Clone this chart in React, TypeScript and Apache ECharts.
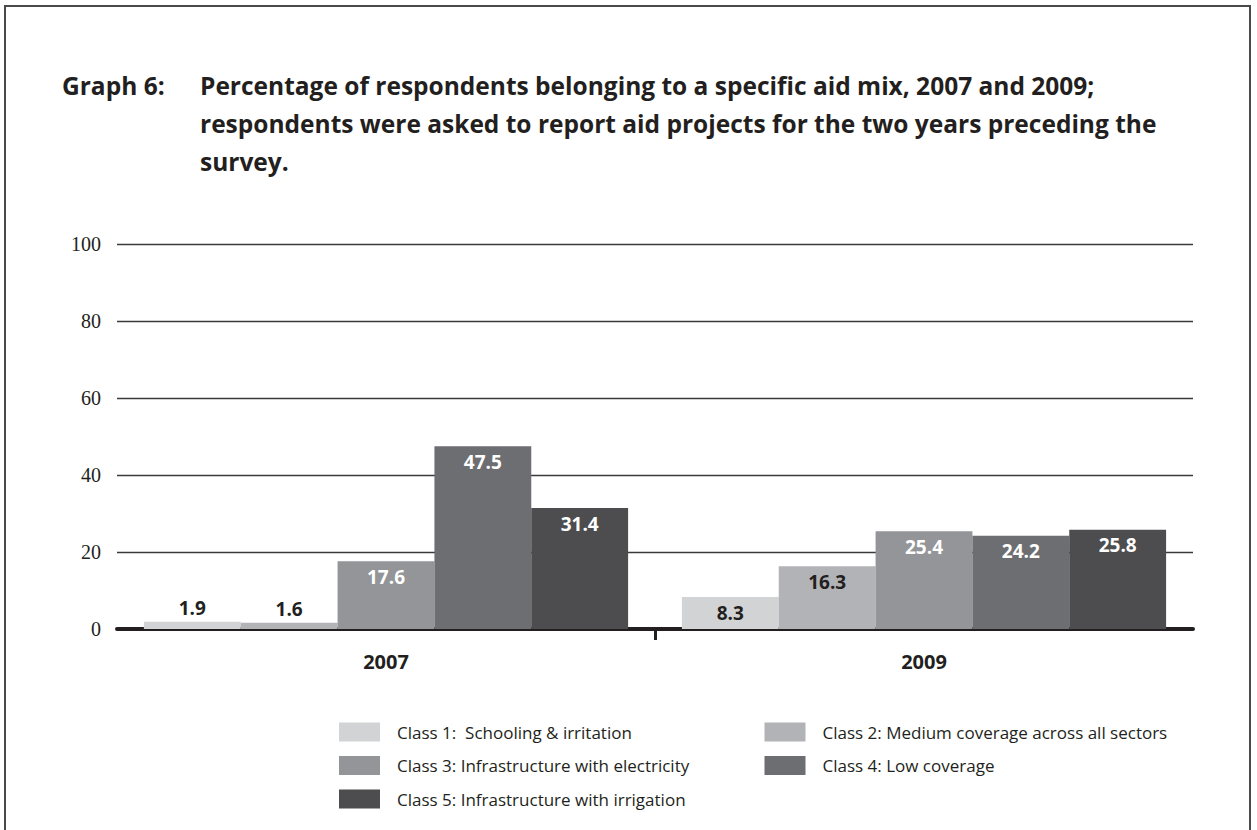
import React, { useEffect, useRef } from "react";
import * as echarts from "echarts";

const categories = ["2007", "2009"];
const classNames = [
  "Class 1:  Schooling & irritation",
  "Class 2: Medium coverage across all sectors",
  "Class 3: Infrastructure with electricity",
  "Class 4: Low coverage",
  "Class 5: Infrastructure with irrigation",
];
const class1 = [1.9, 8.3];
const class2 = [1.6, 16.3];
const class3 = [17.6, 25.4];
const class4 = [47.5, 24.2];
const class5 = [31.4, 25.8];
const yTicks = [0, 20, 40, 60, 80, 100];

const titleLead = "Graph 6:";
const titleBody =
  "Percentage of respondents belonging to a specific aid mix, 2007 and 2009;\nrespondents were asked to report aid projects for the two years preceding the\nsurvey.";

const colors = ["#d1d3d4", "#b1b3b6", "#939598", "#6d6e71", "#4d4d4f"];
const labelColors = ["#231f20", "#231f20", "#ffffff", "#ffffff", "#ffffff"];
const DARK = "#231f20";

export default function App() {
  const ref = useRef<HTMLDivElement>(null);
  useEffect(() => {
    if (!ref.current) return;
    const chart = echarts.init(ref.current, null, { renderer: "svg" });
    const seriesValues = [class1, class2, class3, class4, class5];
    const series: any[] = seriesValues.map((vals, si) => ({
      name: classNames[si],
      type: "bar",
      barGap: "0%",
      barCategoryGap: "10%",
      itemStyle: { color: colors[si] },
      data: vals.map((v) => ({
        value: v,
        label: {
          show: true,
          position: v < 5 ? "top" : "insideTop",
          distance: v < 5 ? 4 : 6,
          color: v < 5 ? DARK : labelColors[si],
          fontFamily: "Open Sans",
          fontWeight: 700,
          fontSize: 19,
          formatter: (p: any) => p.value.toFixed(1),
        },
      })),
    }));

    const titleStyle = {
      fontFamily: "Open Sans",
      fontWeight: 700,
      fontSize: 24.5,
      lineHeight: 38,
      color: DARK,
    };

    chart.setOption({
      animation: false,
      backgroundColor: "#ffffff",
      title: [
        { text: titleLead, left: 62, top: 66, padding: 0, textStyle: titleStyle },
        { text: titleBody, left: 200, top: 66, padding: 0, textStyle: titleStyle },
      ],
      graphic: [
        {
          type: "polyline",
          shape: { points: [[5, 830], [5, 6], [1250, 6], [1250, 830]] },
          style: { stroke: "#4a4a4a", lineWidth: 2, fill: "none" },
          silent: true,
        },
      ],
      legend: {
        data: classNames,
        left: 334,
        top: 717,
        width: 860,
        itemWidth: 41,
        itemHeight: 19,
        itemGap: 13.5,
        icon: "rect",
        selectedMode: false,
        textStyle: {
          fontFamily: "'Liberation Sans Narrow', 'Open Sans'",
          fontSize: 17,
          color: DARK,
          width: 354,
          lineHeight: 20,
          padding: [0, 0, 0, 12],
        },
      },
      grid: { left: 117, right: 64, top: 244, bottom: 201, containLabel: false },
      xAxis: [
        {
          type: "category",
          data: categories,
          axisLine: { show: true, lineStyle: { color: DARK, width: 4 } },
          axisTick: { show: false },
          axisLabel: {
            margin: 22,
            fontFamily: "Open Sans",
            fontWeight: 700,
            fontSize: 20,
            color: DARK,
          },
        },
        {
          type: "category",
          position: "bottom",
          data: ["", "", ""],
          boundaryGap: false,
          axisLine: { show: false },
          axisLabel: { show: false },
          axisTick: {
            show: true,
            interval: (i: number) => i === 1,
            length: 11,
            lineStyle: { color: DARK, width: 3 },
          },
          splitLine: { show: false },
        },
      ],
      yAxis: {
        type: "value",
        min: yTicks[0],
        max: yTicks[yTicks.length - 1],
        interval: 20,
        axisLine: { show: false },
        axisTick: { show: false },
        axisLabel: {
          margin: 16,
          fontFamily: "'Liberation Serif', serif",
          fontSize: 20,
          color: DARK,
        },
        splitLine: { show: true, lineStyle: { color: "#3a3a3a", width: 1.3 } },
      },
      series,
    });
    return () => chart.dispose();
  }, []);
  return (
    <div
      ref={ref}
      style={{ position: "fixed", left: 0, top: 0, width: 1257, height: 830, background: "#fff" }}
    />
  );
}
